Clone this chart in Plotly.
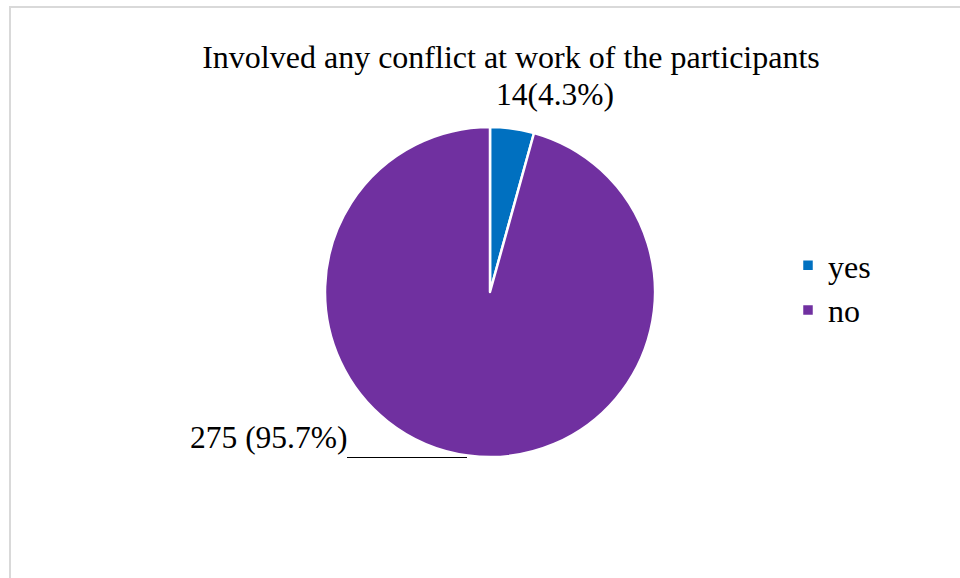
import plotly.graph_objects as go

# Survey answers: involved in any conflict at work
categories = ["yes", "no"]
counts = [14, 275]
percents = [4.3, 95.7]
colors = ["#0070C0", "#7030A0"]

W, H = 960, 578
FONT = "Liberation Serif, Times New Roman, serif"

fig = go.Figure()
fig.add_trace(go.Pie(
    labels=categories,
    values=percents,
    sort=False,
    direction="clockwise",
    rotation=0,
    textinfo="none",
    hoverinfo="label+value",
    marker=dict(colors=colors, line=dict(color="white", width=2.5)),
    domain=dict(x=[325 / W, 655 / W], y=[1 - 457 / H, 1 - 127 / H]),
    showlegend=True,
))

# Data labels placed outside the slices
label_texts = [
    f"{counts[0]}({percents[0]}%)",
    f"{counts[1]} ({percents[1]}%)",
]
label_pos = [(555, 95), (268, 437)]
for txt, (px, py) in zip(label_texts, label_pos):
    fig.add_annotation(
        x=px / W, y=1 - py / H, xref="paper", yref="paper",
        text=txt, showarrow=False,
        font=dict(family=FONT, size=31.5, color="black"),
        xanchor="center", yanchor="middle",
    )

shapes = [
    # chart-area frame
    dict(type="rect", xref="paper", yref="paper",
         x0=10 / W, x1=1.2, y0=-0.2, y1=1 - 7 / H,
         line=dict(color="#d9d9d9", width=2), fillcolor="rgba(0,0,0,0)"),
    # leader line for the large slice label
    dict(type="line", xref="paper", yref="paper",
         x0=347 / W, x1=467 / W, y0=1 - 457.5 / H, y1=1 - 457.5 / H,
         line=dict(color="black", width=1)),
]

fig.update_layout(
    width=W, height=H,
    margin=dict(l=0, r=0, t=0, b=0),
    paper_bgcolor="white",
    plot_bgcolor="white",
    title=dict(
        text="Involved any conflict at work of the participants",
        x=511 / W, xanchor="center",
        y=1 - 57 / H, yanchor="middle",
        font=dict(family=FONT, size=32, color="black"),
    ),
    legend=dict(
        x=788 / W, y=1 - 288 / H, xanchor="left", yanchor="middle",
        font=dict(family=FONT, size=32, color="black"),
        bgcolor="rgba(0,0,0,0)",
        itemwidth=30,
    ),
    shapes=shapes,
)

fig.write_html("out.html")
